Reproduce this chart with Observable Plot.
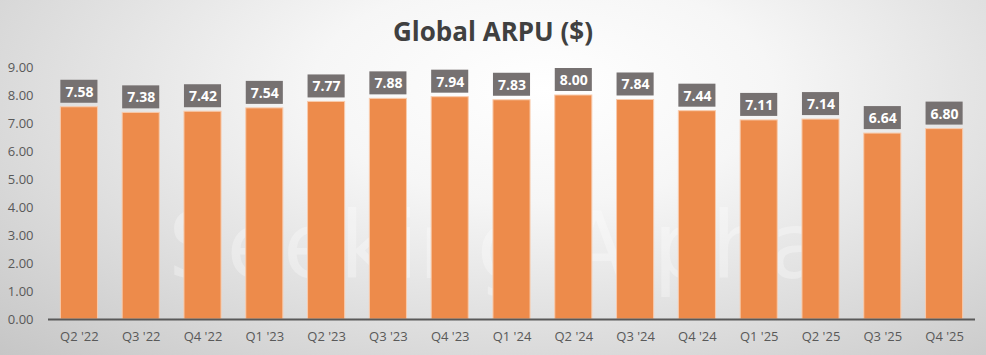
<!DOCTYPE html>
<html>
<head>
<meta charset="utf-8">
<script src="https://cdn.jsdelivr.net/npm/d3@7"></script>
<script src="https://cdn.jsdelivr.net/npm/@observablehq/plot@0.6"></script>
<style>
  html, body { margin: 0; padding: 0; }
  #chart {
    width: 986px; height: 355px; overflow: hidden;
    background: radial-gradient(ellipse farthest-corner at 55% 25%, #ffffff 0%, #f6f6f6 30%, #c6c6c6 100%);
    font-family: "Open Sans", sans-serif;
  }
  #title {
    height: 52px; line-height: 62px; text-align: center;
    font-size: 26px; font-weight: bold; color: #404040;
  }
  svg { background: transparent !important; }
</style>
</head>
<body>
<div id="chart"><div id="title">Global ARPU ($)</div></div>
<script>
const quarters = ["Q2 '22","Q3 '22","Q4 '22","Q1 '23","Q2 '23","Q3 '23","Q4 '23","Q1 '24","Q2 '24","Q3 '24","Q4 '24","Q1 '25","Q2 '25","Q3 '25","Q4 '25"];
const arpu = [7.58, 7.38, 7.42, 7.54, 7.77, 7.88, 7.94, 7.83, 8.00, 7.84, 7.44, 7.11, 7.14, 6.64, 6.80];
const yTicks = [0,1,2,3,4,5,6,7,8,9];

const data = quarters.map((q, i) => ({q, v: arpu[i]}));

const plot = Plot.plot({
  width: 986,
  height: 303,
  marginTop: 15,
  marginBottom: 36,
  marginLeft: 48,
  marginRight: 11,
  style: {fontFamily: "Open Sans, sans-serif", fontSize: "13px", color: "#595959", background: "transparent"},
  x: {domain: quarters, paddingInner: 0.4, paddingOuter: 0.2, round: false, label: null, tickSize: 0, tickPadding: 12},
  y: {domain: [0, 9], ticks: yTicks, tickFormat: d3.format(".2f"), label: null, tickSize: 0, tickPadding: 15},
  marks: [
    Plot.text(["Seeking Alpha"], {frameAnchor: "middle", dx: -15, dy: 55, text: d => d, fontSize: 92, fill: "#ffffff", fillOpacity: 0.3, fontFamily: "DejaVu Sans", letterSpacing: 12}),
    Plot.barY(data, {x: "q", y: "v", fill: "#ED8B4B", stroke: "#F8CBAD", strokeWidth: 1}),
    Plot.ruleY([0], {stroke: "#595959", strokeWidth: 2}),
    Plot.barY(data, {x: "q", y1: "v", y2: "v", insetTop: -27, insetBottom: 4, fill: "#767171"}),
    Plot.text(data, {x: "q", y: "v", text: d => d3.format(".2f")(d.v), dy: -15, fill: "#ffffff", fontWeight: "bold", fontSize: 14})
  ]
});
document.getElementById("chart").appendChild(plot);
</script>
</body>
</html>
